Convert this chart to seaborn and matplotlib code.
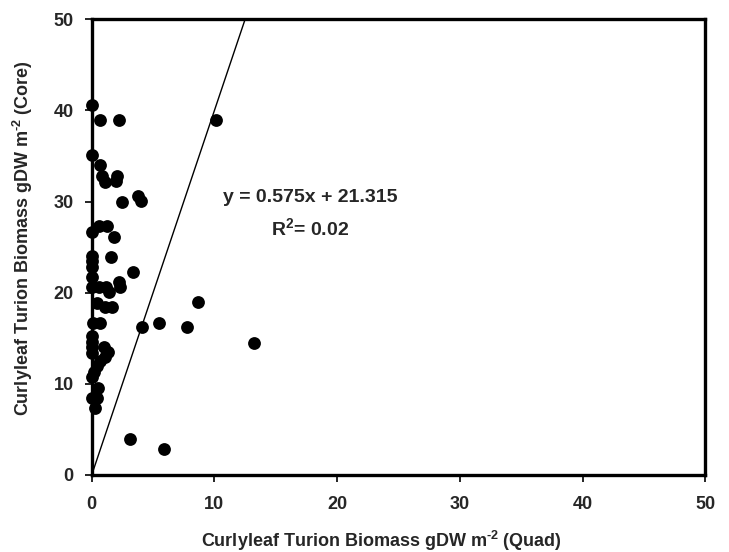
import matplotlib
matplotlib.use("Agg")
import matplotlib.pyplot as plt
import seaborn as sns
import pandas as pd

# Data
quad = [0.0, 0.7, 2.2, 10.15, 0.0, 0.7, 0.85, 1.1, 2.1, 1.95, 2.5, 3.8, 4.0,
        0.0, 0.6, 1.25, 1.8, 0.0, 0.05, 0.0, 1.55, 3.35, 0.0, 0.0, 0.6, 1.2,
        2.3, 2.2, 1.4, 0.45, 1.1, 1.65, 8.65, 0.1, 0.65, 5.45, 4.1, 7.75, 0.0,
        0.0, 0.0, 0.0, 13.2, 1.0, 1.3, 1.1, 0.7, 0.45, 0.2, 0.05, 0.5, 0.0,
        0.45, 0.3, 3.1, 5.9]
core = [40.6, 38.9, 38.9, 38.9, 35.1, 34.0, 32.8, 32.2, 32.8, 32.3, 30.0, 30.6,
        30.1, 26.7, 27.3, 27.3, 26.1, 24.0, 23.5, 22.8, 23.9, 22.3, 21.7, 20.6,
        20.6, 20.6, 20.6, 21.2, 20.1, 18.9, 18.4, 18.4, 19.0, 16.7, 16.7, 16.7,
        16.2, 16.2, 15.2, 14.6, 14.0, 13.4, 14.5, 14.0, 13.5, 13.0, 12.5, 12.0,
        11.3, 10.7, 9.6, 8.4, 8.4, 7.3, 4.0, 2.8]
ref_line_x = [0.0, 12.5]
ref_line_y = [0.0, 50.0]
ticks = [0, 10, 20, 30, 40, 50]
equation = "y = 0.575x + 21.315"
r2_text = "R$^{2}$= 0.02"

sns.set_theme(style="white")
plt.rcParams["font.family"] = ["Liberation Sans", "DejaVu Sans"]
plt.rcParams["font.weight"] = "bold"
plt.rcParams["mathtext.fontset"] = "custom"
plt.rcParams["mathtext.rm"] = "Liberation Sans:bold"
plt.rcParams["mathtext.bf"] = "Liberation Sans:bold"
plt.rcParams["mathtext.it"] = "Liberation Sans:bold"
plt.rcParams["mathtext.default"] = "bf"

df = pd.DataFrame({"quad": quad, "core": core})

fig = plt.figure(figsize=(7.29, 5.52), dpi=100)
ax = fig.add_axes([0.1258, 0.1395, 0.8417, 0.8255])

sns.lineplot(x=ref_line_x, y=ref_line_y, ax=ax, color="black", linewidth=1.0)
sns.scatterplot(data=df, x="quad", y="core", ax=ax, color="black", s=85,
                edgecolor="black", linewidth=0, zorder=3, clip_on=False)

ax.set_xlim(0, 50)
ax.set_ylim(0, 50)
ax.set_xticks(ticks)
ax.set_yticks(ticks)
ax.set_xticklabels([str(t) for t in ticks], fontsize=13, fontweight="bold")
ax.set_yticklabels([str(t) for t in ticks], fontsize=13, fontweight="bold")
ax.tick_params(axis="both", direction="out", length=5, width=1.2, color="black",
               bottom=True, left=True, top=False, right=False)
ax.tick_params(axis="y", pad=8)
ax.tick_params(axis="x", pad=10)

for side in ["left", "bottom", "top", "right"]:
    ax.spines[side].set_visible(True)
    ax.spines[side].set_color("black")
    ax.spines[side].set_linewidth(2.4)

ax.set_xlabel(r"Curlyleaf Turion Biomass gDW m$^{\text{-2}}$ (Quad)", fontsize=13,
              fontweight="bold")
ax.set_ylabel(r"Curlyleaf Turion Biomass gDW m$^{\text{-2}}$ (Core)", fontsize=13,
              fontweight="bold")
ax.xaxis.set_label_coords(0.4715, -0.118)
ax.yaxis.set_label_coords(-0.092, 0.52)

ax.text(17.8, 30.4, equation, fontsize=14, fontweight="bold", ha="center", va="center")
ax.text(17.8, 27.1, r2_text, fontsize=14, fontweight="bold", ha="center", va="center")

fig.savefig("out.png", dpi=100, facecolor="white")
